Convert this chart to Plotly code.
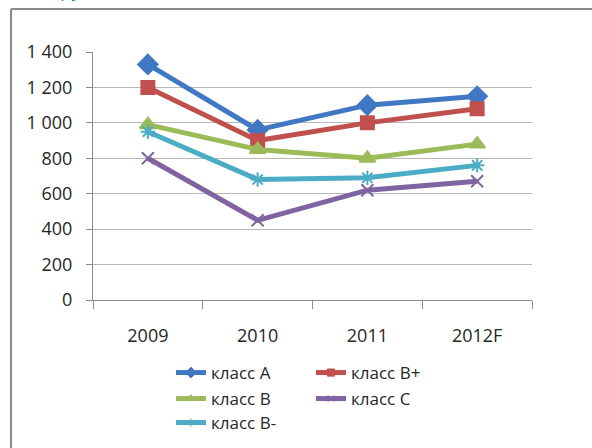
import plotly.graph_objects as go

# Категории по годам и значения рядов
years = ["2009", "2010", "2011", "2012F"]
class_a = [1330, 960, 1100, 1150]
class_b_plus = [1200, 900, 1000, 1080]
class_b = [990, 850, 800, 880]
class_b_minus = [950, 680, 690, 760]
class_c = [800, 450, 620, 670]

y_ticks = [0, 200, 400, 600, 800, 1000, 1200, 1400]
y_tick_labels = ["0", "200", "400", "600", "800", "1 000", "1 200", "1 400"]

series = [
    ("класс A", class_a, "#4178C4", "diamond", 15, "legend"),
    ("класс B+", class_b_plus, "#C0504D", "square", 13, "legend"),
    ("класс B", class_b, "#9BBB59", "triangle-up", 14, "legend2"),
    ("класс C", class_c, "#8064A2", "x-thin", 12, "legend2"),
    ("класс B-", class_b_minus, "#4BACC6", "asterisk", 12, "legend3"),
]

W, H = 592, 448
L, R, T, B = 93, 60, 52, 148
plot_w = W - L - R
plot_h = H - T - B


def px_x(px):
    return (px - L) / plot_w


def px_y(py):
    return (H - B - py) / plot_h


fig = go.Figure()
for name, vals, color, sym, size, leg in series:
    fig.add_trace(go.Scatter(
        x=years, y=vals, name=name, mode="lines+markers",
        line=dict(color=color, width=5),
        marker=dict(symbol=sym, size=size, color=color,
                    line=dict(color=color, width=2)),
        legendgroup=name, showlegend=False,
    ))
    # Legend entry with a smaller marker than on the plot
    fig.add_trace(go.Scatter(
        x=[None], y=[None], name=name, mode="lines+markers",
        line=dict(color=color, width=5),
        marker=dict(symbol=sym, size=size * 0.55, color=color,
                    line=dict(color=color, width=1)),
        legendgroup=name, legend=leg,
    ))

font = dict(family="Open Sans, Lato, sans-serif", size=18, color="#262626")
leg_font = dict(family="Open Sans, Lato, sans-serif", size=17, color="#262626")


def legend_box(py):
    return dict(orientation="h", x=px_x(171), y=px_y(py), xanchor="left",
                yanchor="top", font=leg_font, entrywidth=95,
                itemwidth=30, bgcolor="rgba(0,0,0,0)", tracegroupgap=0)


fig.update_layout(
    width=W, height=H,
    margin=dict(l=L, r=R, t=T, b=B, autoexpand=False),
    paper_bgcolor="white", plot_bgcolor="white",
    font=font,
    xaxis=dict(
        type="category", tickson="boundaries", ticks="outside", ticklen=8,
        tickcolor="#8c8c8c", showline=True, linecolor="#8c8c8c", linewidth=1,
        showgrid=False, tickfont=font, range=[-0.5, 3.5], automargin=False,
        ticklabelstandoff=19,
    ),
    yaxis=dict(
        range=[0, 1400], tickvals=y_ticks, ticktext=y_tick_labels,
        ticks="outside", ticklen=6, tickcolor="#8c8c8c",
        showline=True, linecolor="#8c8c8c", linewidth=1,
        showgrid=True, gridcolor="#b8b8b8", gridwidth=1,
        zeroline=False, tickfont=font, ticklabelstandoff=10, automargin=False,
    ),
    legend=legend_box(355),
    legend2=legend_box(381),
    legend3=legend_box(405),
    showlegend=True,
)

# Рамка области диаграммы
fig.add_shape(type="line", xref="paper", yref="paper",
              x0=px_x(11), x1=px_x(W + 5), y0=px_y(9), y1=px_y(9),
              line=dict(color="#8a8a8a", width=2))
fig.add_shape(type="line", xref="paper", yref="paper",
              x0=px_x(11), x1=px_x(11), y0=px_y(9), y1=px_y(H + 5),
              line=dict(color="#8a8a8a", width=2))

# Заголовок над рамкой (частично за краем страницы)
fig.add_annotation(text="сектору.", xref="paper", yref="paper",
                   x=px_x(8), y=px_y(5), xanchor="left", yanchor="bottom",
                   showarrow=False,
                   font=dict(family="Open Sans, sans-serif", size=19,
                             color="#1F7FD0"))

fig.write_html("out.html")
